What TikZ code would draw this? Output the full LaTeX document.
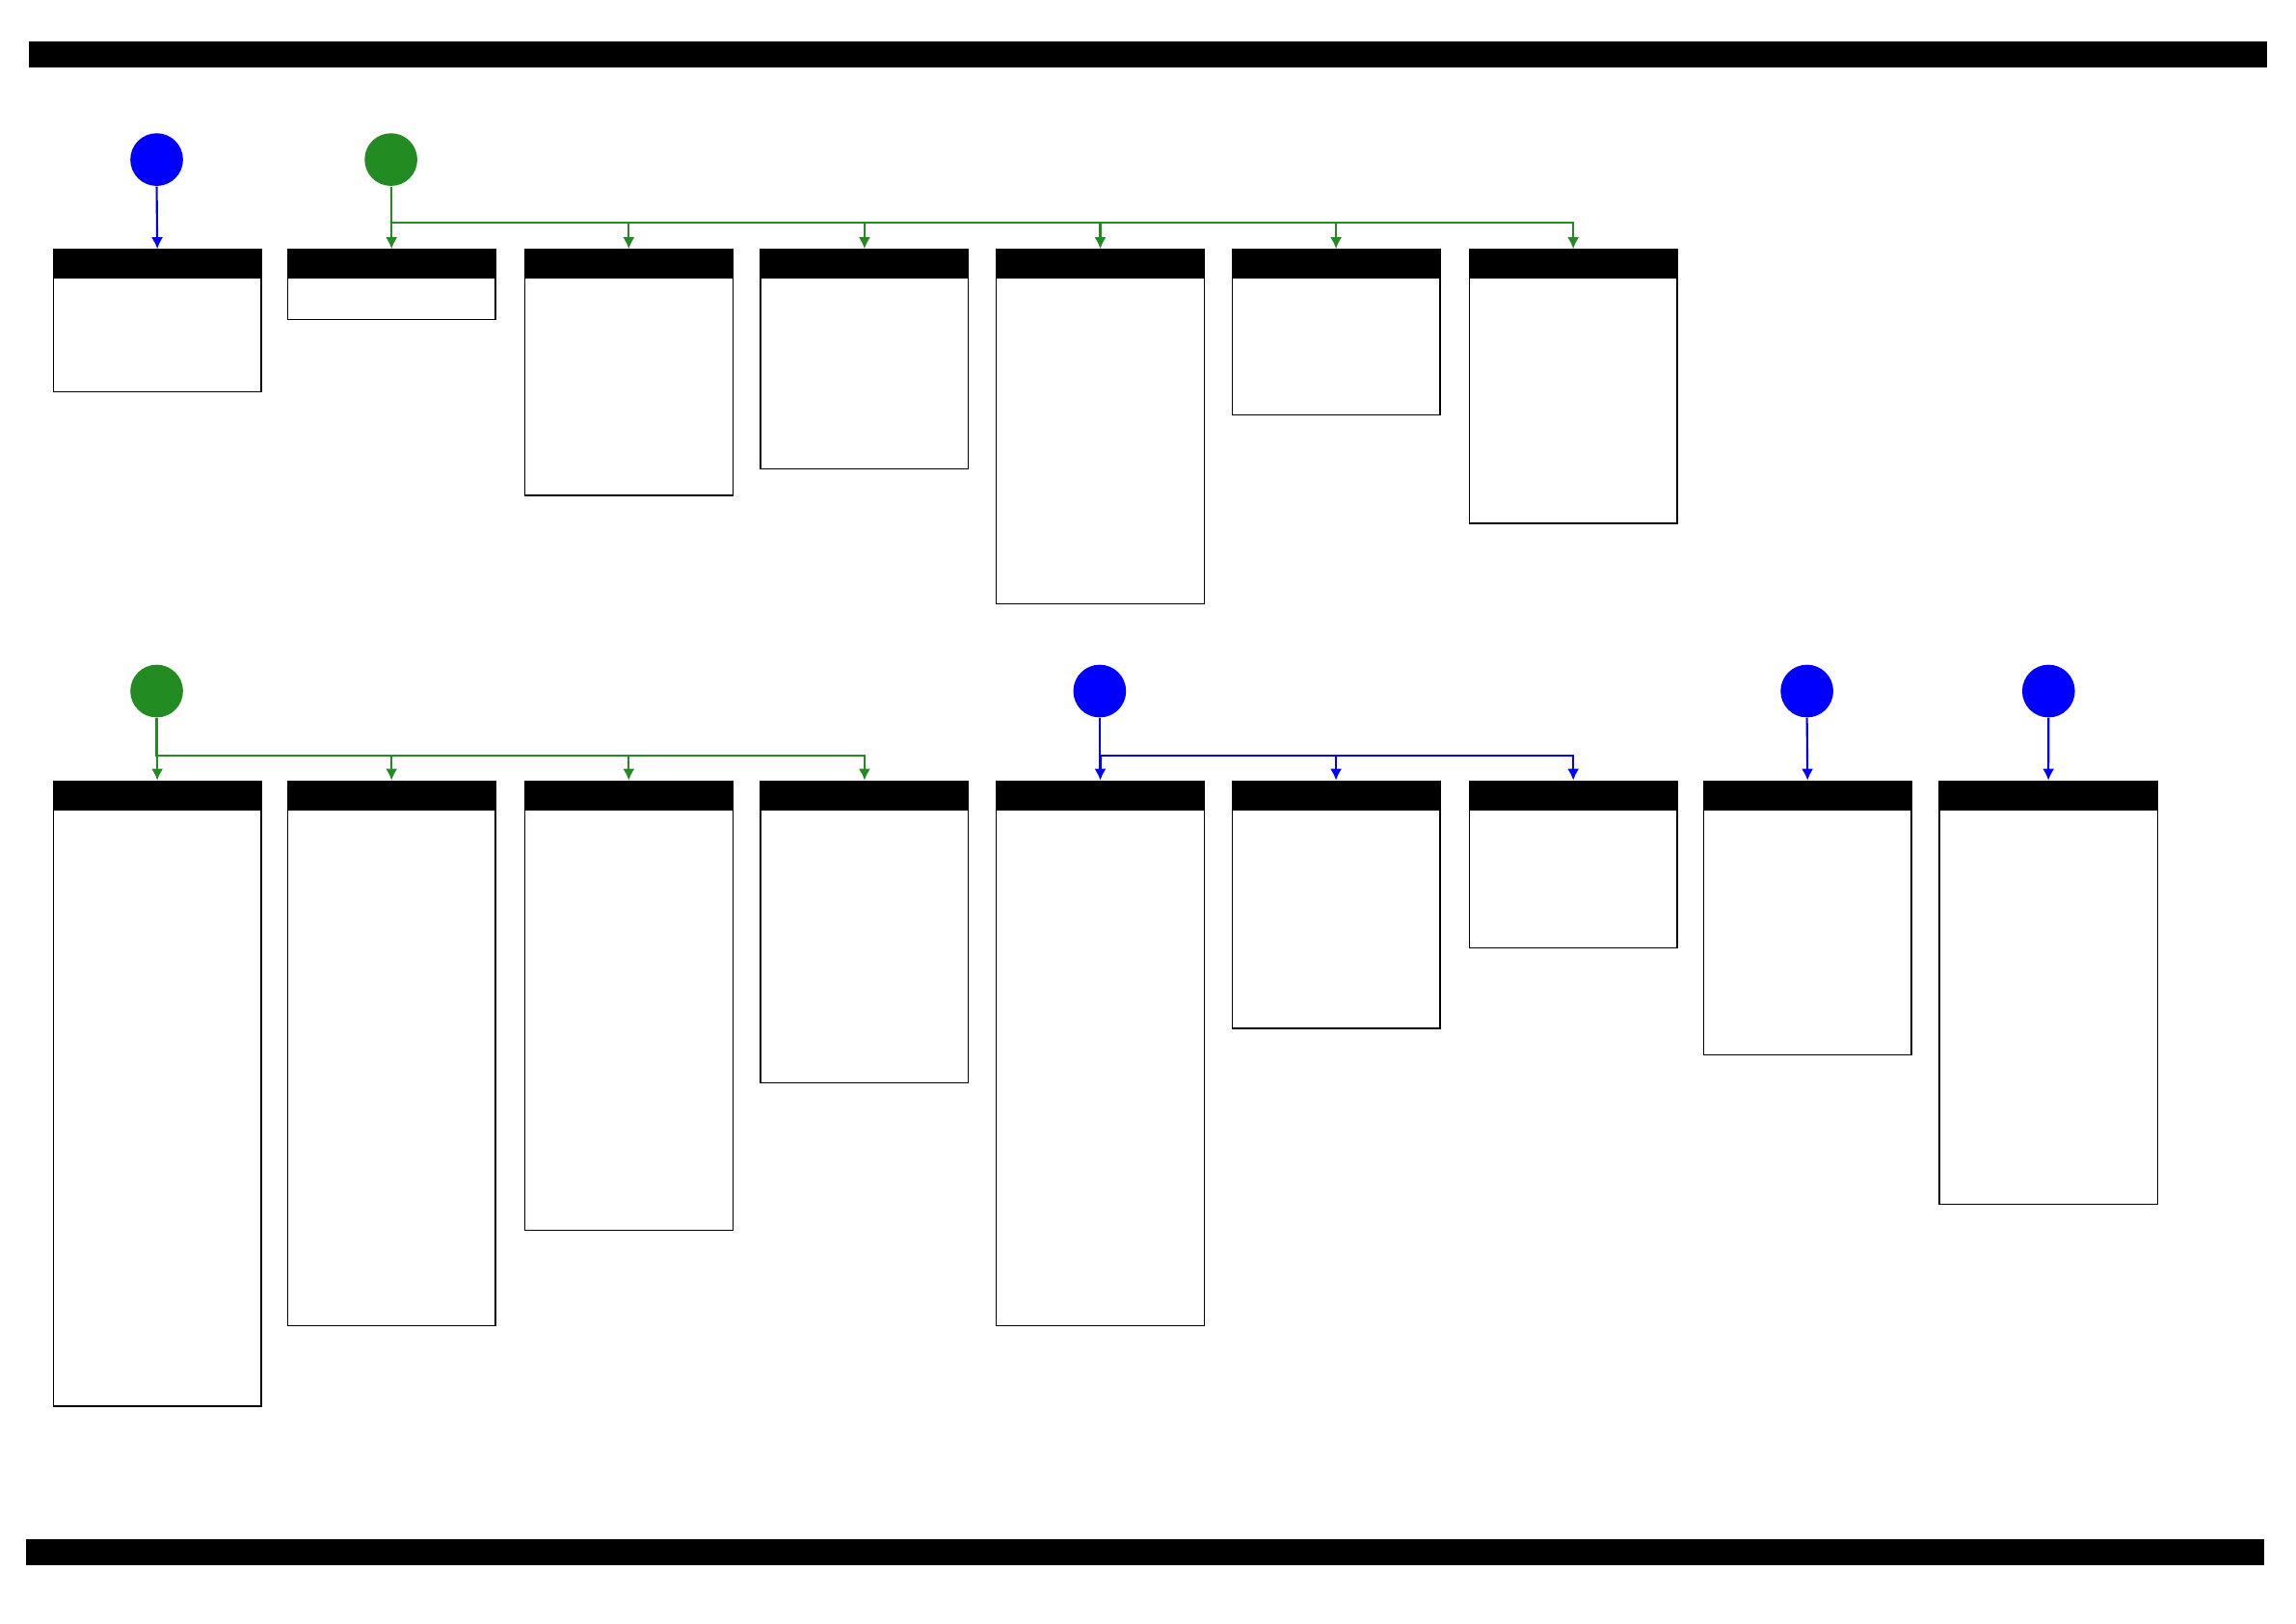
\documentclass[tikz,border=0pt]{standalone}
\usetikzlibrary{arrows.meta}
\definecolor{fgreen}{RGB}{34,139,34}
\begin{document}
\begin{tikzpicture}[x=0.5pt,y=-0.5pt,
  box/.style={draw,line width=0.4pt,inner sep=0pt,anchor=north west,fill=white},
  head/.style={fill=black,inner sep=0pt,anchor=north west},
  dot/.style={circle,inner sep=0pt,minimum size=18pt},
  gl/.style={draw=fgreen,line width=0.7pt,-{Latex[length=4pt,width=4pt]}},
  bl/.style={draw=blue,line width=0.7pt,-{Latex[length=4pt,width=4pt]}}]
\useasboundingbox (0,0) rectangle (1568,1108.6);
\fill (20,28) rectangle (1548,46);
\fill (18,1051) rectangle (1546,1069);
\newcommand\bx[5]{%
  \node[box,minimum width={(#4-#2)*0.5pt},minimum height={(#5-#3)*0.5pt}] (#1) at (#2,#3) {};
  \node[head,minimum width={(#4-#2)*0.5pt},minimum height=10pt] (#1h) at (#2,#3) {};}
\bx{a1}{36}{170}{178}{267}
\bx{a2}{196}{170}{338}{218}
\bx{a3}{358}{170}{500}{338}
\bx{a4}{519}{170}{661}{320}
\bx{a5}{680}{170}{822}{412}
\bx{a6}{841}{170}{983}{283}
\bx{a7}{1003}{170}{1145}{357}
\bx{b1}{36}{533}{178}{960}
\bx{b2}{196}{533}{338}{905}
\bx{b3}{358}{533}{500}{840}
\bx{b4}{519}{533}{661}{739}
\bx{b5}{680}{533}{822}{905}
\bx{b6}{841}{533}{983}{702}
\bx{b7}{1003}{533}{1145}{647}
\bx{b8}{1163}{533}{1305}{720}
\bx{b9}{1324}{533}{1473}{822}
\node[dot,fill=blue] (c1) at (107,109) {};
\node[dot,fill=fgreen] (c2) at (267,109) {};
\node[dot,fill=fgreen] (c3) at (107,472) {};
\node[dot,fill=blue] (c4) at (751,472) {};
\node[dot,fill=blue] (c5) at (1234,472) {};
\node[dot,fill=blue] (c6) at (1399,472) {};
\coordinate (busA) at (0,152);
\coordinate (busB) at (0,516);
\draw[bl] (c1.south) -- (a1.north);
\foreach \t in {a2,a3,a4,a5,a6,a7} \draw[gl] (c2.south) |- (c2|-busA) -| (\t.north);
\foreach \t in {b1,b2,b3,b4} \draw[gl] (c3.south) |- (c3|-busB) -| (\t.north);
\foreach \t in {b5,b6,b7} \draw[bl] (c4.south) |- (c4|-busB) -| (\t.north);
\draw[bl] (c5.south) -- (b8.north);
\draw[bl] (c6.south) -- (b9.north);
\end{tikzpicture}
\end{document}
